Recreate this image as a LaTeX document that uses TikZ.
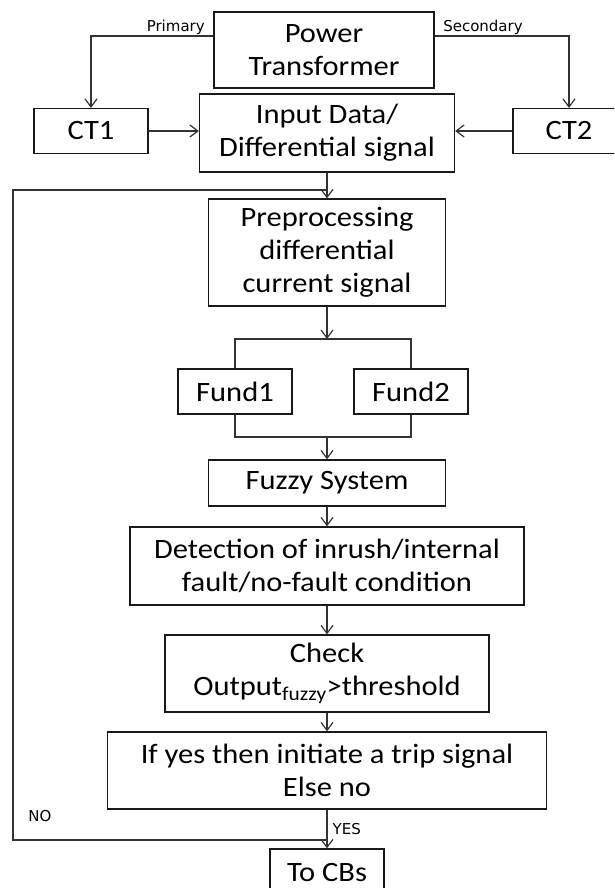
\documentclass[tikz,border=0pt]{standalone}
\usepackage{fontspec}
\setmainfont{Carlito}
\newfontfamily\boxfont[FakeStretch=1.09]{Carlito}
\newfontfamily\tagfont{DejaVu Sans}
\usetikzlibrary{positioning}
\usetikzlibrary{calc}
\usetikzlibrary{arrows.meta}
\tikzset{
	x=1pt, y=-1pt,
	block/.style ={rectangle, draw=black!90, line width=1.3pt, align=center, inner sep=0pt, font=\boxfont\fontsize{28}{33}\selectfont},
	wire/.style = {draw=black!80, line width=1.2pt},
	arr/.style = {wire, -{Straight Barb[length=8pt,width=12pt]}},
	tag/.style = {font=\tagfont\fontsize{15}{18}\selectfont, inner sep=0pt, text=black}
}

\begin{document}
\begin{tikzpicture}
			\useasboundingbox (0,0) rectangle (614,888);
			\clip (0,0) rectangle (614,888);

			% top row
			\node (pt) [block, minimum width=220, minimum height=76] at (324,50) {Power\\Transformer};
			\node (input) [block, minimum width=255, minimum height=78] at (327,133) {Input Data/\\Differential signal};
			\node (ct1) [block, minimum width=114, minimum height=45] at (91,131) {CT1};
			\node (ct2) [block, minimum width=112, minimum height=45] at (569,131) {CT2};

			% main column
			\node (pre) [block, minimum width=237, minimum height=107] at (327,252.5) {Preprocessing\\differential\\current signal};
			\node (fund1) [block, minimum width=114, minimum height=45] at (235,391.5) {Fund1};
			\node (fund2) [block, minimum width=114, minimum height=45] at (411,391.5) {Fund2};
			\node (fuzzy) [block, minimum width=237, minimum height=46] at (327,483) {Fuzzy System};
			\node (det) [block, minimum width=394, minimum height=78] at (327,566) {Detection of inrush/internal\\fault/no-fault condition};
			\node (check) [block, minimum width=324, minimum height=77] at (327,673.5) {Check\\Output\textsubscript{fuzzy}>threshold};
			\node (ifyes) [block, minimum width=439, minimum height=77] at (327,770.5) {If yes then initiate a trip signal\\Else no};
			\node (cbs) [block, minimum width=114, minimum height=48] at (327,873) {To CBs};

			\coordinate (split) at (327,339);
			\coordinate (merge) at (327,437);
			\coordinate (fbjoin) at (327,190);
			\coordinate (nojoin) at (327,840);
			\coordinate (fbleft) at (13,515);

			\draw[arr] ([yshift=14pt]pt.west) node[tag, anchor=south east, xshift=-8pt, yshift=1pt] {Primary} -| (ct1.north);
			\draw[arr] ([yshift=14pt]pt.east) node[tag, anchor=south west, xshift=8pt, yshift=1pt] {Secondary} -| (ct2.north);
			\draw[arr] (ct1.east) -- (ct1.east -| input.west);
			\draw[arr] (ct2.west) -- (ct2.west -| input.east);
			\draw[arr] (input) -- (pre);
			\draw[arr] (pre) -- (split);
			\draw[wire] (fund1.north) |- (split) -| (fund2.north);
			\draw[wire] (fund1.south) |- (merge) -| (fund2.south);
			\draw[arr] (merge) -- (fuzzy);
			\draw[arr] (fuzzy) -- (det);
			\draw[arr] (det) -- (check);
			\draw[arr] (check) -- (ifyes);
			\draw[arr] (ifyes) -- node[tag, anchor=west, xshift=5pt] {YES} (cbs);

			% NO loop back to preprocessing
			\draw[wire] (nojoin) -- (nojoin -| fbleft) -- (fbjoin -| fbleft) -- (fbjoin);
			\node (no) [tag] at (40,816) {NO};

		\end{tikzpicture}
\end{document}
